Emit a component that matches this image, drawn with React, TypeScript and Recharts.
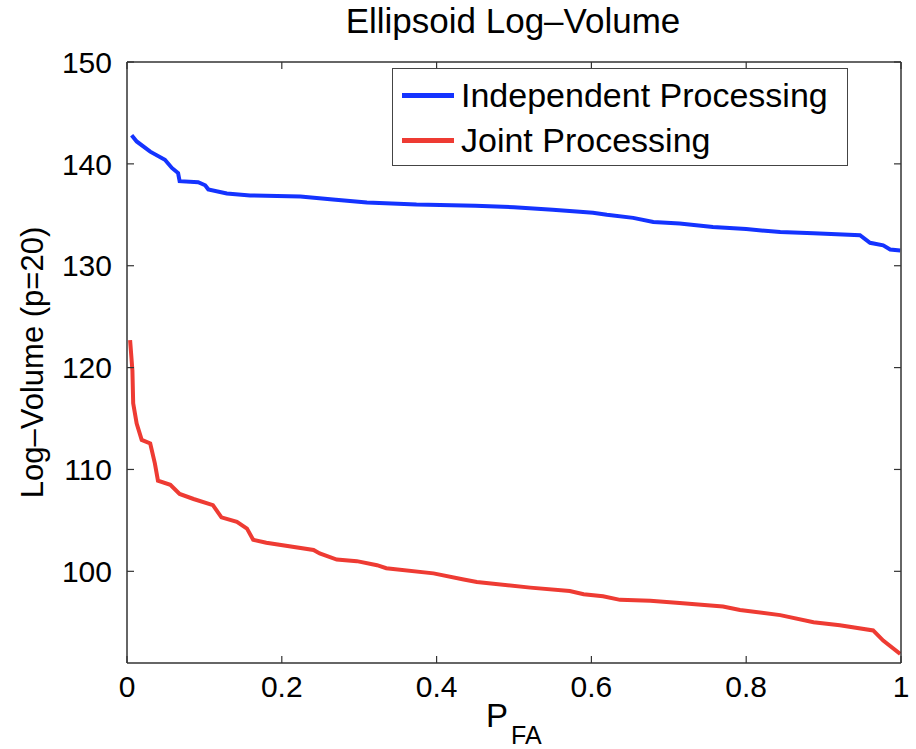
import React from "react";
import { LineChart, Line, XAxis, YAxis, Legend } from "recharts";

const title = "Ellipsoid Log\u2013Volume";
const yLabel = "Log\u2013Volume (p=20)";
const seriesNames = ["Independent Processing", "Joint Processing"];
const seriesColors = ["#1433ff", "#ee3b33"];

const xTicks = [0, 0.2, 0.4, 0.6, 0.8, 1];
const xTickLabels = ["0", "0.2", "0.4", "0.6", "0.8", "1"];
const yTicks = [100, 110, 120, 130, 140, 150];

const indepX = [0.006, 0.0125, 0.03, 0.049, 0.058, 0.066, 0.068, 0.092, 0.101, 0.105, 0.129, 0.159, 0.224, 0.266, 0.31, 0.374, 0.45, 0.5, 0.55, 0.585, 0.602, 0.62, 0.654, 0.68, 0.714, 0.757, 0.8, 0.844, 0.887, 0.947, 0.96, 0.977, 0.986, 0.999];
const indepY = [142.8, 142.2, 141.2, 140.4, 139.6, 139.1, 138.3, 138.2, 137.9, 137.5, 137.1, 136.9, 136.8, 136.5, 136.2, 136.0, 135.9, 135.75, 135.5, 135.3, 135.2, 135.0, 134.7, 134.3, 134.15, 133.8, 133.6, 133.3, 133.2, 133.0, 132.25, 132.0, 131.6, 131.5];

const jointX = [0.004, 0.007, 0.008, 0.0125, 0.019, 0.03, 0.036, 0.04, 0.056, 0.068, 0.086, 0.111, 0.122, 0.142, 0.155, 0.163, 0.18, 0.241, 0.249, 0.271, 0.297, 0.323, 0.335, 0.396, 0.435, 0.452, 0.521, 0.572, 0.59, 0.615, 0.637, 0.676, 0.714, 0.77, 0.792, 0.844, 0.887, 0.921, 0.964, 0.977, 0.999];
const jointY = [122.7, 119.7, 116.5, 114.5, 112.9, 112.55, 110.6, 108.9, 108.5, 107.6, 107.1, 106.5, 105.3, 104.85, 104.2, 103.1, 102.8, 102.1, 101.75, 101.15, 101.0, 100.6, 100.3, 99.8, 99.2, 98.95, 98.4, 98.07, 97.75, 97.55, 97.2, 97.1, 96.9, 96.55, 96.2, 95.7, 95.0, 94.7, 94.2, 93.2, 91.9];

const indepData = indepX.map((x, i) => ({ x, y: indepY[i] }));
const jointData = jointX.map((x, i) => ({ x, y: jointY[i] }));

const FONT = "'Liberation Sans', Arial, Helvetica, sans-serif";
const AXIS = "#333";
const TICKLINE = { stroke: AXIS, strokeWidth: 1.2 };

const LegendBox = () => (
  <div
    style={{
      border: "1.5px solid #444",
      background: "#fff",
      width: 456,
      height: 98,
      boxSizing: "border-box",
      fontFamily: FONT,
      fontSize: 34,
      color: "#000",
      paddingTop: 4,
      whiteSpace: "nowrap",
    }}
  >
    {seriesNames.map((name, i) => (
      <div key={name} style={{ display: "flex", alignItems: "center", height: 45 }}>
        <div style={{ width: 52, height: 5, background: seriesColors[i], marginLeft: 9, marginRight: 7 }} />
        <span>{name}</span>
      </div>
    ))}
  </div>
);

const XLabel = (props: any) => {
  const vb = props.viewBox || {};
  const cx = vb.x + vb.width / 2;
  return (
    <text x={cx - 28} y={727} fontFamily={FONT} fill="#000">
      <tspan fontSize={33}>P</tspan>
      <tspan fontSize={25} dx={3} dy={17}>FA</tspan>
    </text>
  );
};

const NoLabel = () => <g />;

export default function App() {
  return (
    <div style={{ position: "absolute", left: 0, top: 0, width: 916, height: 749, background: "#fff" }}>
      <div
        style={{
          position: "absolute",
          left: 0,
          width: 1026,
          top: 1,
          textAlign: "center",
          fontFamily: FONT,
          fontSize: 35,
          color: "#000",
          whiteSpace: "nowrap",
        }}
      >
        {title}
      </div>
      <LineChart width={916} height={749} margin={{ top: 61, right: 14, bottom: 36, left: 27 }}>
        <XAxis
          dataKey="x"
          type="number"
          domain={[0, 1]}
          ticks={xTicks}
          tickFormatter={(v: number) => xTickLabels[xTicks.indexOf(v)] ?? String(v)}
          allowDataOverflow
          height={50}
          tickSize={-7}
          tickMargin={20}
          tickLine={TICKLINE}
          stroke={AXIS}
          strokeWidth={1.5}
          tick={{ fill: "#000", fontSize: 30, fontFamily: FONT }}
          label={<XLabel />}
        />
        <XAxis
          xAxisId="top"
          orientation="top"
          dataKey="x"
          type="number"
          domain={[0, 1]}
          ticks={xTicks}
          allowDataOverflow
          height={1}
          tickSize={-7}
          tickLine={TICKLINE}
          stroke={AXIS}
          strokeWidth={1.5}
          tick={<NoLabel />}
        />
        <YAxis
          type="number"
          domain={[91, 150]}
          ticks={yTicks}
          allowDataOverflow
          width={100}
          tickSize={-7}
          tickMargin={22}
          tickLine={TICKLINE}
          stroke={AXIS}
          strokeWidth={1.5}
          tick={{ fill: "#000", fontSize: 30, fontFamily: FONT }}
          label={{
            value: yLabel,
            angle: -90,
            position: "insideLeft",
            dx: 0,
            dy: 0,
            style: { textAnchor: "middle", fontSize: 31, fontFamily: FONT, fill: "#000" },
          }}
        />
        <YAxis
          yAxisId="right"
          orientation="right"
          type="number"
          domain={[91, 150]}
          ticks={yTicks}
          allowDataOverflow
          width={1}
          tickSize={-7}
          tickLine={TICKLINE}
          stroke={AXIS}
          strokeWidth={1.5}
          tick={<NoLabel />}
        />
        <Line
          data={indepData}
          dataKey="y"
          name={seriesNames[0]}
          stroke={seriesColors[0]}
          strokeWidth={4}
          dot={false}
          type="linear"
          isAnimationActive={false}
        />
        <Line
          data={jointData}
          dataKey="y"
          name={seriesNames[1]}
          stroke={seriesColors[1]}
          strokeWidth={4}
          dot={false}
          type="linear"
          isAnimationActive={false}
        />
        <Legend
          layout="vertical"
          align="center"
          verticalAlign="middle"
          wrapperStyle={{ left: 392, top: 68, width: 456, height: 98 }}
          content={() => <LegendBox />}
        />
      </LineChart>
    </div>
  );
}
